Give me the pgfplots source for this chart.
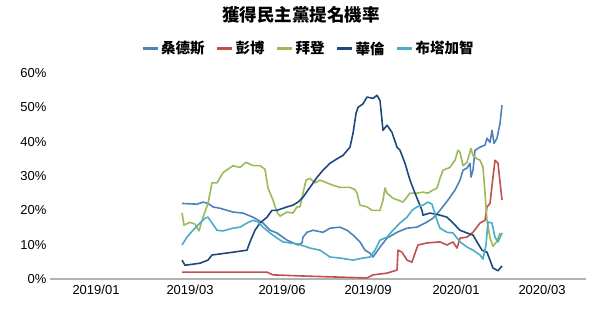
\documentclass[border=0pt]{standalone}
\usepackage{fontspec}
\setmainfont{Liberation Sans}
\newfontfamily\cjk{Noto Sans CJK TC}
\usepackage{pgfplots}
\pgfplotsset{compat=1.18}
\definecolor{cBlue}{HTML}{4F81BD}
\definecolor{cRed}{HTML}{C0504D}
\definecolor{cGreen}{HTML}{9BBB59}
\definecolor{cNavy}{HTML}{1F497D}
\definecolor{cCyan}{HTML}{4BACC6}
\begin{document}
\begin{tikzpicture}[x=1pt,y=1pt]
\path[use as bounding box] (0,0) rectangle (600,320);
\node[font=\cjk\bfseries\fontsize{17.5}{17.5}\selectfont] at (301,305) {獲得民主黨提名機率};
\begin{axis}[
  at={(50pt,41pt)}, anchor=south west,
  scale only axis, width=536pt, height=206pt,
  xmin=50, xmax=586, ymin=0, ymax=60,
  axis lines*=left,
  x axis line style={-, draw=gray!60, line width=1.6pt},
  y axis line style={draw=none},
  tick style={draw=none}, major tick length=0pt,
  ytick={0,10,20,30,40,50,60},
  yticklabel={\pgfmathprintnumber{\tick}\%},
  xtick={96,190,282,368,456,542},
  xticklabels={2019/01,2019/03,2019/06,2019/09,2020/01,2020/03},
  tick label style={font=\fontsize{13}{13}\selectfont},
  x tick label style={yshift=-3pt},
  /pgf/number format/assume math mode=true,
  clip=false,
  legend columns=5,
  legend style={draw=none, at={(0.482,1.119)}, anchor=center,
    font=\cjk\bfseries\fontsize{14.5}{14.5}\selectfont,
    /tikz/every even column/.append style={column sep=9pt}},
  legend image code/.code={\draw[#1, line width=3pt] (0pt,0pt) -- (15pt,0pt);},
  every axis plot/.append style={line width=1.6pt, line join=round, no markers},
]
\addplot[cBlue] coordinates {(182,22)(197,21.8)(203,22.4)(208,22)(213,21)(220,20.6)(233,19.5)(243,19.2)(253,18)(263,16.3)(270,14.2)(277,13.4)(287,11.3)(298,9.9)(302,10.5)(303,12.2)(307,13.6)(313,14.2)(323,13.6)(330,14.8)(340,15.1)(347,14.2)(353,12.8)(360,10.8)(365,8.4)(370,7.5)(373,6.4)(380,9.3)(387,11.9)(397,13.6)(407,14.8)(417,15.1)(427,16.6)(433,17.7)(440,20)(448,23)(455,25.9)(460,28.8)(463,31.7)(467,32.3)(470,33.7)(471,29.7)(473,31.7)(475,37.5)(480,38.4)(485,39)(487,41)(490,39.8)(492,43.3)(494,39.5)(497,41)(500,45.3)(502,50.6)};
\addlegendentry{桑德斯}
\addplot[cRed] coordinates {(182,2)(267,2)(273,1.2)(300,0.9)(333,0.6)(367,0.3)(373,1.2)(387,1.7)(397,2.6)(398,8.4)(402,7.8)(407,5.5)(412,4.9)(415,7.5)(418,9.9)(427,10.5)(440,10.8)(447,9.9)(453,10.8)(457,9)(460,11.9)(467,12.2)(473,13.6)(480,16.3)(485,17.1)(487,21)(490,22)(493,29.7)(495,34.6)(498,33.7)(502,23)};
\addlegendentry{彭博}
\addplot[cGreen] coordinates {(182,19.2)(184,15.7)(190,16.5)(195,16)(199,14)(203,18)(208,22)(212,28)(217,28)(223,31)(233,33)(240,32.5)(246,34)(253,33)(260,33)(265,32)(268,26.5)(273,23)(277,19.5)(280,18.3)(287,19.5)(293,19.2)(297,21)(300,21)(303,25)(306,28.8)(310,29.3)(315,28)(320,28.8)(333,27.3)(340,26.7)(350,26.7)(355,26)(357,25)(360,21.5)(367,21)(372,20)(380,20)(383,23)(385,26.5)(387,25)(393,23.5)(398,23)(403,22.4)(410,25)(417,25)(423,25.3)(428,25)(433,25.9)(437,26.5)(440,29.3)(443,31.7)(450,32.5)(455,34.6)(458,37.5)(460,36.9)(463,33)(467,34)(471,38)(473,36)(477,35)(480,34.6)(483,32.6)(485,25)(487,17)(490,12)(493,9.5)(497,11)(500,13.4)};
\addlegendentry{拜登}
\addplot[cNavy] coordinates {(182,5.5)(185,4)(200,4.6)(208,5.5)(212,7)(220,7.3)(233,7.8)(247,8.4)(250,10.8)(255,14.2)(260,16.3)(267,18)(272,20)(277,20)(287,21)(293,21.5)(298,22.4)(303,23.8)(310,26.7)(317,29.6)(323,31.7)(330,33.7)(337,35)(343,36)(350,38.4)(353,42.4)(356,48.2)(358,50)(363,51)(367,53)(373,52.6)(377,53.5)(380,52)(383,43.3)(387,44.8)(392,42.7)(397,38.4)(400,37.5)(405,33.7)(410,28.8)(415,25)(422,20)(423,18.6)(430,19.2)(440,18.6)(447,18)(453,16.3)(460,14.2)(467,13.4)(473,12.8)(477,10.8)(482,8.4)(487,7.8)(490,5.5)(493,3.2)(498,2.4)(502,3.8)};
\addlegendentry{華倫}
\addplot[cCyan] coordinates {(182,9.9)(187,12.2)(193,14.2)(200,16.3)(205,17.7)(208,18)(212,16.3)(217,14.2)(223,14)(233,14.8)(240,15.1)(247,16.3)(253,17.1)(258,16.6)(263,15.1)(270,13.4)(277,11.9)(283,10.8)(290,10.5)(298,10.2)(310,9)(320,8.4)(330,6.4)(340,6.1)(353,5.5)(363,6.1)(370,6.4)(375,8.4)(380,11.3)(387,12.2)(393,14.2)(400,16.3)(407,18)(412,20)(417,21)(423,21.5)(428,22.4)(432,21.8)(437,17.1)(440,14.8)(447,13.6)(453,13.4)(460,10.8)(467,9.3)(473,8.4)(480,7)(483,5.8)(486,10)(488,16.6)(492,16.3)(495,12.2)(498,10.8)(502,13.4)};
\addlegendentry{布塔加智}
\end{axis}
\end{tikzpicture}
\end{document}
